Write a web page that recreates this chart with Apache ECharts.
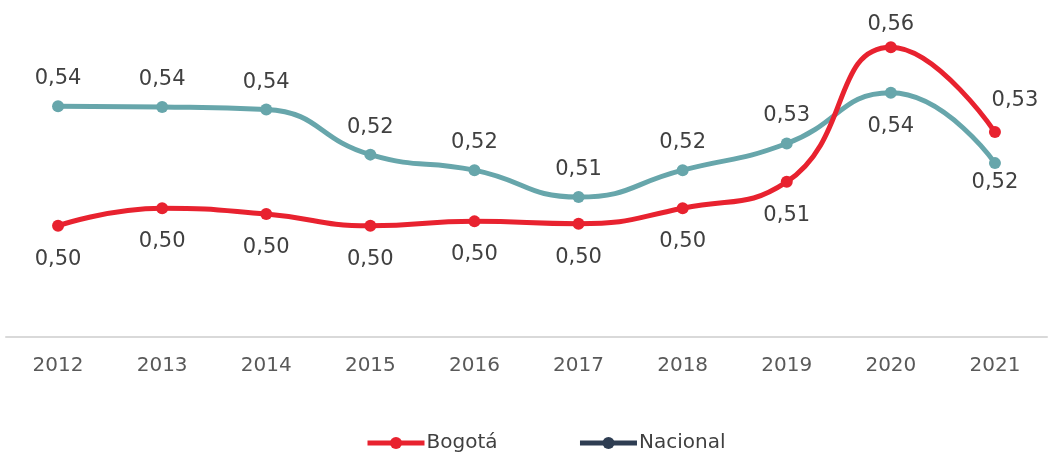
<!DOCTYPE html>
<html>
<head>
<meta charset="utf-8">
<script src="https://cdn.jsdelivr.net/npm/echarts@6/dist/echarts.min.js"></script>
<style>
html,body{margin:0;padding:0;background:#fff;}
#chart{width:1050px;height:456px;}
</style>
</head>
<body>
<div id="chart"></div>
<script>
var years = ['2012','2013','2014','2015','2016','2017','2018','2019','2020','2021'];
var bogota = [0.498, 0.504, 0.502, 0.498, 0.4995, 0.4987, 0.504, 0.513, 0.559, 0.530];
var nacional = [0.5388, 0.5386, 0.5377, 0.5223, 0.517, 0.5078, 0.517, 0.5261, 0.5434, 0.5194];

var RED = '#E8222F';
var TEAL = '#67A6AB';
var NAVY = '#2E3D52';
var FONT = 'DejaVu Sans';

function fmt(p){ return p.value.toFixed(2).replace('.', ','); }

// label tweaks (position only)
var bogOffset = {8:[0,5], 9:[20,-4]};
var nacOffset = {9:[0,-14]};

var bogData = bogota.map(function(v,i){
  var above = v >= nacional[i];
  var lab = {position: above ? 'top' : 'bottom', distance: above ? 11 : 17};
  if (bogOffset[i]) lab.offset = bogOffset[i];
  return {value: v, label: lab};
});
var nacData = nacional.map(function(v,i){
  var above = v >= bogota[i];
  var lab = {position: above ? 'top' : 'bottom', distance: above ? 11 : 17};
  if (nacOffset[i]) lab.offset = nacOffset[i];
  return {value: v, label: lab};
});

var chart = echarts.init(document.getElementById('chart'), null, {renderer:'canvas'});
chart.setOption({
  animation: false,
  backgroundColor: '#ffffff',
  textStyle: {fontFamily: FONT},
  grid: {left: 6, right: 3, top: 15, bottom: 119, containLabel: false},
  legend: {
    left: 365, top: 433, padding: 0,
    itemWidth: 57, itemHeight: 15, itemGap: 80,
    textStyle: {fontFamily: FONT, fontSize: 20, color: '#404040', padding: [0,0,0,-3]},
    data: [
      {name: 'Bogotá', itemStyle: {color: RED}, lineStyle: {color: RED, width: 5}},
      {name: 'Nacional', itemStyle: {color: NAVY}, lineStyle: {color: NAVY, width: 5}}
    ]
  },
  xAxis: {
    type: 'category',
    data: years,
    boundaryGap: true,
    axisLine: {lineStyle: {color: '#D9D9D9', width: 2}},
    axisTick: {show: false},
    axisLabel: {fontFamily: FONT, fontSize: 20, color: '#595959', margin: 19}
  },
  yAxis: {
    type: 'value',
    min: 0.46, max: 0.57, interval: 0.01,
    show: false,
    splitLine: {show: false}
  },
  series: [
    {
      name: 'Nacional', type: 'line', smooth: 0.5,
      data: nacData,
      symbol: 'circle', symbolSize: 12,
      itemStyle: {color: TEAL},
      lineStyle: {color: TEAL, width: 5},
      label: {show: true, formatter: fmt, fontFamily: FONT, fontSize: 21, color: '#404040'},
      z: 2
    },
    {
      name: 'Bogotá', type: 'line', smooth: 0.5,
      data: bogData,
      symbol: 'circle', symbolSize: 12,
      itemStyle: {color: RED},
      lineStyle: {color: RED, width: 5},
      label: {show: true, formatter: fmt, fontFamily: FONT, fontSize: 21, color: '#404040'},
      z: 3
    }
  ]
});
</script>
</body>
</html>
